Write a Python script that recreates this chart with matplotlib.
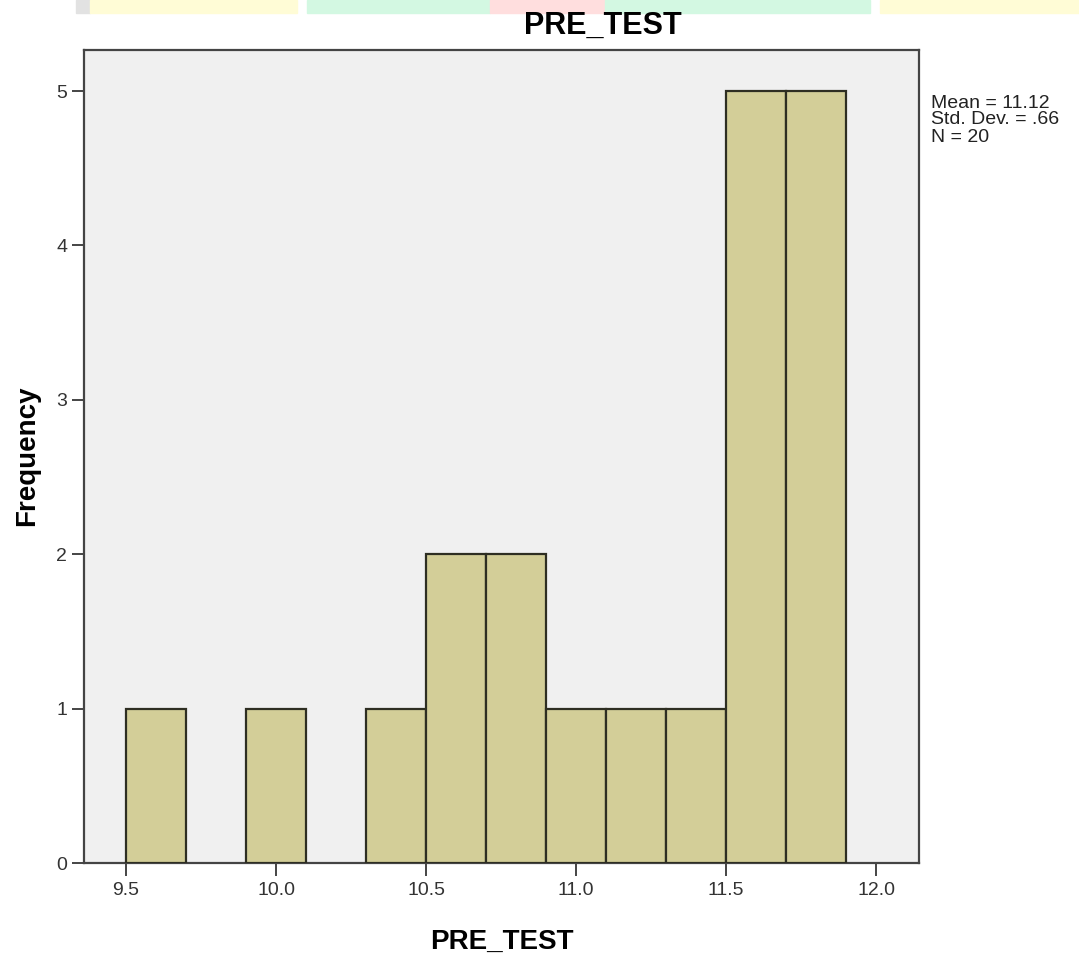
import matplotlib.pyplot as plt
from matplotlib.patches import Rectangle

# histogram bins (left edge) and counts
bin_left = [9.5, 9.9, 10.3, 10.5, 10.7, 10.9, 11.1, 11.3, 11.5, 11.7]
counts = [1, 1, 1, 2, 2, 1, 1, 1, 5, 5]
bin_width = 0.2

x_ticks = [9.5, 10.0, 10.5, 11.0, 11.5, 12.0]
x_tick_labels = ['9.5', '10.0', '10.5', '11.0', '11.5', '12.0']
y_ticks = [0, 1, 2, 3, 4, 5]

stats_lines = ['Mean = 11.12', 'Std. Dev. = .66', 'N = 20']

plt.rcParams['font.family'] = ['Liberation Sans', 'DejaVu Sans']

W, H = 1079, 955
fig = plt.figure(figsize=(W / 100, H / 100), dpi=100)

# faint watermark band showing above the chart (scan artefact)
band = [(76, 90, '#e2e2e2'), (90, 297, '#fffcd6'),
        (307, 490, '#d3f8e2'), (490, 605, '#ffdede'),
        (605, 870, '#d3f8e2'), (880, 1079, '#fffcd6')]
for x0, x1, c in band:
    fig.patches.append(Rectangle((x0 / W, 1 - 13 / H), (x1 - x0) / W, 13 / H,
                                 transform=fig.transFigure, color=c, zorder=0))

ax = fig.add_axes([84 / W, 1 - 863 / H, (919 - 84) / W, (863 - 50) / H])
ax.set_facecolor('#f0f0f0')

ax.bar(bin_left, counts, width=bin_width, align='edge',
       color='#d3ce98', edgecolor='#2e2e22', linewidth=1.6, zorder=3)

ax.set_xlim(9.36, 12.143)
ax.set_ylim(0, 5.266)
ax.set_xticks(x_ticks)
ax.set_xticklabels(x_tick_labels)
ax.set_yticks(y_ticks)

for s in ax.spines.values():
    s.set_color('#444444')
    s.set_linewidth(1.6)

ax.tick_params(axis='both', direction='out', length=9, width=1.4,
               color='#444444', labelcolor='#333333', labelsize=14)
ax.tick_params(axis='x', pad=5)
ax.tick_params(axis='y', pad=3)

ax.set_xlabel('PRE_TEST', fontsize=20, fontweight='bold', labelpad=21)
fig.text(27 / W, 1 - 456 / H, 'Frequency', fontsize=20, fontweight='bold',
         rotation=90, ha='center', va='center')

fig.text(603 / W, 1 - 26 / H, 'PRE_TEST', fontsize=22, fontweight='bold',
         ha='center', va='center')

for i, line in enumerate(stats_lines):
    fig.text(931 / W, 1 - (103 + 17 * i) / H, line, fontsize=14,
             color='#222222', ha='left', va='center')

fig.savefig('out.png', dpi=100)
